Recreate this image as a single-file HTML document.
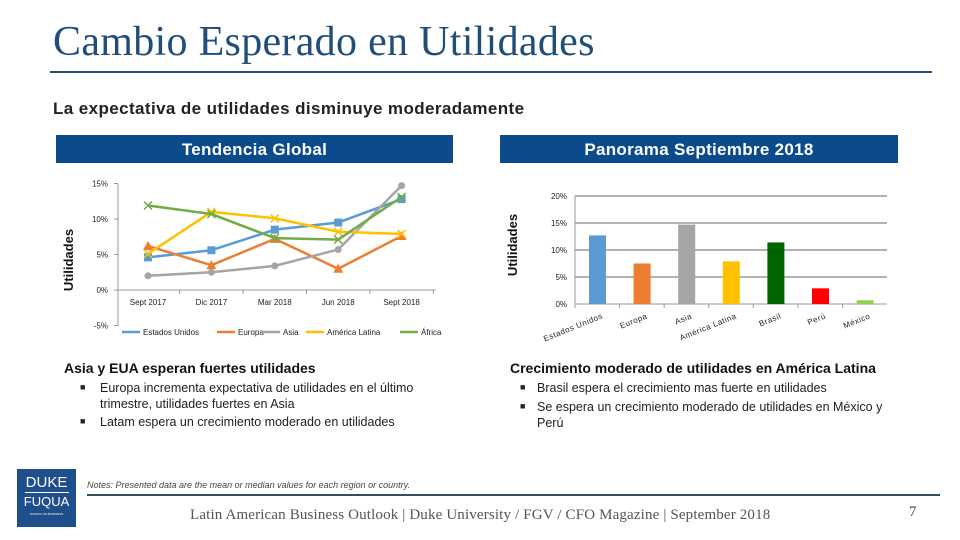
<!DOCTYPE html>
<html><head><meta charset="utf-8">
<style>
body{margin:0;width:960px;height:540px;background:#fff;position:relative;overflow:hidden;font-family:"Liberation Sans",sans-serif;}
.abs{position:absolute;}
.hdr{position:absolute;top:135px;height:28px;background:#0b4a8b;color:#fff;font-weight:bold;font-size:17px;line-height:29px;text-align:center;letter-spacing:0.3px;}
.txt{font-size:12.5px;color:#222;}
</style></head><body>
<div class="abs" style="left:53px;top:18px;font-family:'Liberation Serif',serif;font-size:42px;color:#1f4e79;letter-spacing:0.3px;">Cambio Esperado en Utilidades</div>
<div class="abs" style="left:50px;top:71px;width:882px;height:2px;background:#1f4e79;"></div>
<div class="abs" style="left:53px;top:99px;font-size:17px;font-weight:bold;color:#222;letter-spacing:0.4px;">La expectativa de utilidades disminuye moderadamente</div>
<div class="hdr" style="left:56px;width:397px;">Tendencia Global</div>
<div class="hdr" style="left:500px;width:398px;">Panorama Septiembre 2018</div>

<svg class="abs" style="left:0;top:0" width="960" height="540">
<g id="line-chart"></g>
<g id="bar-chart"></g>
</svg>

<div class="abs" style="left:64px;top:360px;font-size:14px;font-weight:bold;color:#111;">Asia y EUA esperan fuertes utilidades</div>
<div class="abs txt" style="left:80px;top:380px;width:370px;"><span style="position:absolute;left:0;font-size:9px;top:2px">■</span><div style="margin-left:20px;line-height:16px">Europa incrementa expectativa de utilidades en el último trimestre, utilidades fuertes en Asia</div></div>
<div class="abs txt" style="left:80px;top:414px;width:370px;"><span style="position:absolute;left:0;font-size:9px;top:2px">■</span><div style="margin-left:20px;line-height:16px">Latam espera un crecimiento moderado en utilidades</div></div>

<div class="abs" style="left:510px;top:360px;font-size:14px;font-weight:bold;color:#111;">Crecimiento moderado de utilidades en América Latina</div>
<div class="abs txt" style="left:520px;top:380px;width:370px;"><span style="position:absolute;left:0;font-size:9px;top:2px">■</span><div style="margin-left:17px;line-height:16px">Brasil espera el crecimiento mas fuerte en utilidades</div></div>
<div class="abs txt" style="left:520px;top:399px;width:370px;"><span style="position:absolute;left:0;font-size:9px;top:2px">■</span><div style="margin-left:17px;line-height:16px">Se espera un crecimiento moderado de utilidades en México y Perú</div></div>

<div class="abs" style="left:17px;top:469px;width:59px;height:58px;background:#1f4e8c;color:#fff;text-align:center;font-family:'Liberation Sans',sans-serif;">
<div style="font-size:15px;margin-top:6px;line-height:15px;">DUKE</div>
<div style="width:44px;height:1px;background:#fff;margin:2px auto;"></div>
<div style="font-size:13px;line-height:14px;">FUQUA</div>
<div style="font-size:3px;margin-top:3px;">SCHOOL OF BUSINESS</div></div>
<div class="abs" style="left:87px;top:480px;font-size:9px;font-style:italic;color:#444;">Notes: Presented data are the mean or median values for each region or country.</div>
<div class="abs" style="left:87px;top:494px;width:853px;height:2px;background:#2f4f5f;"></div>
<div class="abs" style="left:190px;top:507px;font-family:'Liberation Serif',serif;font-size:15px;color:#555;letter-spacing:0.15px;">Latin American Business Outlook | Duke University / FGV / CFO Magazine | September 2018</div>
<div class="abs" style="left:909px;top:504px;font-family:'Liberation Serif',serif;font-size:15px;color:#444;">7</div>

<script>
const lineCats=["Sept 2017","Dic 2017","Mar 2018","Jun 2018","Sept 2018"];
const lineTicks=[15,10,5,0,-5];
const seriesNames=["Estados Unidos","Europa","Asia","América Latina","África"];
const seriesColors=["#5b9bd5","#ed7d31","#a5a5a5","#ffc000","#70ad47"];
const usVals=[4.6,5.6,8.5,9.5,12.8];
const euVals=[6.2,3.5,7.2,3.0,7.6];
const asiaVals=[2.0,2.5,3.4,5.7,14.7];
const latamVals=[5.1,11.0,10.1,8.2,7.9];
const africaVals=[11.9,10.7,7.3,7.1,13.1];
const barCats=["Estados Unidos","Europa","Asia","América Latina","Brasil","Perú","México"];
const barVals=[12.7,7.5,14.7,7.9,11.4,2.9,0.7];
const barColors=["#5b9bd5","#ed7d31","#a5a5a5","#ffc000","#006400","#ff0000","#92d050"];
const barTicks=[20,15,10,5,0];

const NS="http://www.w3.org/2000/svg";
function mk(p,tag,attrs,txt){const e=document.createElementNS(NS,tag);for(const k in attrs)e.setAttribute(k,attrs[k]);if(txt!==undefined)e.textContent=txt;p.appendChild(e);return e;}

const lc=document.getElementById('line-chart');
const ly=v=>290-v*7.1;
const lx=i=>148+i*63.4;
mk(lc,'line',{x1:118,y1:184,x2:118,y2:326,stroke:'#999'});
mk(lc,'line',{x1:118,y1:290,x2:436,y2:290,stroke:'#999'});
lineTicks.forEach(t=>{
 mk(lc,'line',{x1:114,y1:ly(t),x2:118,y2:ly(t),stroke:'#999'});
 const e=mk(lc,'text',{x:108,y:ly(t)+3,'text-anchor':'end','font-size':8,fill:'#222'},t+'%');
 
});
lineCats.forEach((c,i)=>{
 mk(lc,'line',{x1:lx(i)+31.7,y1:290,x2:lx(i)+31.7,y2:294,stroke:'#999'});
 const e=mk(lc,'text',{x:lx(i),y:305,'text-anchor':'middle','font-size':8,fill:'#222'},c);
 
});
const yt=mk(lc,'text',{x:0,y:0,transform:'translate(73,260) rotate(-90)','text-anchor':'middle','font-size':13,'font-weight':'bold',fill:'#111'},'Utilidades');

const allSeries=[usVals,euVals,asiaVals,latamVals,africaVals];
allSeries.forEach((vals,s)=>{
 const pts=vals.map((v,i)=>lx(i)+','+ly(v)).join(' ');
 const pl=mk(lc,'polyline',{points:pts,fill:'none',stroke:seriesColors[s],'stroke-width':2.5});
 
 
 vals.forEach((v,i)=>{
  let m;
  if(s===0) m=mk(lc,'rect',{x:lx(i)-4,y:ly(v)-4,width:8,height:8,fill:seriesColors[s]});
  else if(s===1) m=mk(lc,'polygon',{points:`${lx(i)},${ly(v)-5} ${lx(i)-5},${ly(v)+4} ${lx(i)+5},${ly(v)+4}`,fill:seriesColors[s]});
  else if(s===2) m=mk(lc,'circle',{cx:lx(i),cy:ly(v),r:3.5,fill:seriesColors[s]});
  else m=mk(lc,'path',{d:`M${lx(i)-4} ${ly(v)-4}L${lx(i)+4} ${ly(v)+4}M${lx(i)+4} ${ly(v)-4}L${lx(i)-4} ${ly(v)+4}`,stroke:seriesColors[s],'stroke-width':1.5});
  
  
 });
});
const legX=[122,217,262,306,400];
seriesNames.forEach((n,s)=>{
 const g=mk(lc,'g',{});
 
 
 mk(g,'line',{x1:legX[s],y1:332,x2:legX[s]+18,y2:332,stroke:seriesColors[s],'stroke-width':2.5});
 mk(g,'text',{x:legX[s]+21,y:335,'font-size':8,fill:'#222'},n);
});

const bc=document.getElementById('bar-chart');
const by=v=>304-v*5.4;
const bw=44.6;const bx=i=>575+i*bw;
barTicks.forEach(t=>{
 const g=mk(bc,'line',{x1:575,y1:by(t),x2:887,y2:by(t),stroke:'#999','stroke-width':t===0?1:1.5});
 
 const e=mk(bc,'text',{x:567,y:by(t)+3,'text-anchor':'end','font-size':8,fill:'#222'},t+'%');
 
});
mk(bc,'line',{x1:575,y1:196,x2:575,y2:305,stroke:'#999'});
const yt2=mk(bc,'text',{x:0,y:0,transform:'translate(517,245) rotate(-90)','text-anchor':'middle','font-size':13,'font-weight':'bold',fill:'#111'},'Utilidades');

barVals.forEach((v,i)=>{
 const r=mk(bc,'rect',{x:bx(i)+14,y:by(v),width:17,height:by(0)-by(v),fill:barColors[i]});
 
 
 mk(bc,'line',{x1:bx(i),y1:304,x2:bx(i),y2:308,stroke:'#999'});
 const cx=bx(i)+bw/2+6;
 const t=mk(bc,'text',{x:0,y:0,transform:`translate(${cx},318) rotate(-22)`,'text-anchor':'end','font-size':8,fill:'#222','letter-spacing':0.5},barCats[i]);
 
});
</script>
</body></html>
